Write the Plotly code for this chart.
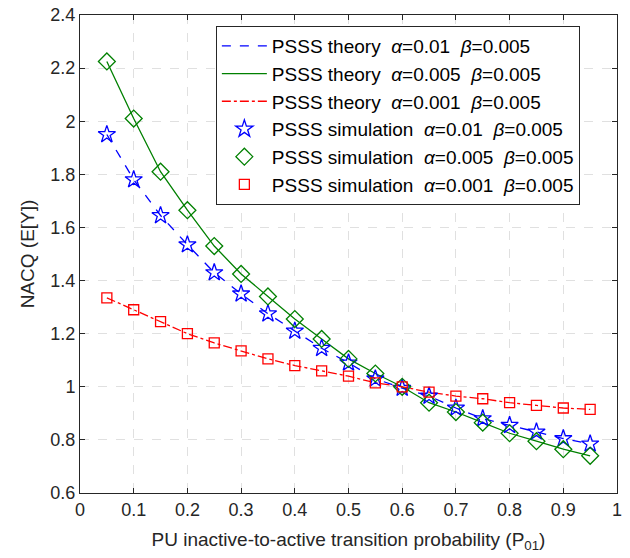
import plotly.graph_objects as go

# transition probability P01
p01 = [0.05, 0.10, 0.15, 0.20, 0.25, 0.30, 0.35, 0.40, 0.45, 0.50,
       0.55, 0.60, 0.65, 0.70, 0.75, 0.80, 0.85, 0.90, 0.95]

# alpha = 0.01
nacq_a01 = [1.95, 1.78, 1.645, 1.535, 1.43, 1.35, 1.275, 1.21, 1.145, 1.09,
            1.03, 0.995, 0.965, 0.92, 0.88, 0.855, 0.83, 0.805, 0.785]
# alpha = 0.005
nacq_a005 = [2.225, 2.01, 1.81, 1.665, 1.53, 1.425, 1.34, 1.255, 1.18, 1.105,
             1.05, 1.0, 0.94, 0.905, 0.865, 0.825, 0.795, 0.765, 0.74]
# alpha = 0.001
nacq_a001 = [1.335, 1.29, 1.245, 1.2, 1.165, 1.135, 1.105, 1.08, 1.06, 1.04,
             1.015, 1.0, 0.98, 0.965, 0.955, 0.94, 0.93, 0.92, 0.915]


def label(kind, a):
    return f"PSSS {kind}&nbsp; <i>α</i>={a}&nbsp; <i>β</i>=0.005"


fig = go.Figure()

fig.add_trace(go.Scatter(x=p01, y=nacq_a01, mode="lines",
                         line=dict(color="#0000FF", width=1.3, dash="dash"),
                         name=label("theory", "0.01")))
fig.add_trace(go.Scatter(x=p01, y=nacq_a005, mode="lines",
                         line=dict(color="#008000", width=1.3),
                         name=label("theory", "0.005")))
fig.add_trace(go.Scatter(x=p01, y=nacq_a001, mode="lines",
                         line=dict(color="#FF0000", width=1.3, dash="dashdot"),
                         name=label("theory", "0.001")))

fig.add_trace(go.Scatter(x=p01, y=nacq_a01, mode="markers",
                         marker=dict(symbol="star-open", size=13, color="#0000FF",
                                     line=dict(width=1.3, color="#0000FF")),
                         name=label("simulation", "0.01")))
fig.add_trace(go.Scatter(x=p01, y=nacq_a005, mode="markers",
                         marker=dict(symbol="diamond-open", size=13, color="#008000",
                                     line=dict(width=1.3, color="#008000")),
                         name=label("simulation", "0.005")))
fig.add_trace(go.Scatter(x=p01, y=nacq_a001, mode="markers",
                         marker=dict(symbol="square-open", size=10, color="#FF0000",
                                     line=dict(width=1.3, color="#FF0000")),
                         name=label("simulation", "0.001")))

axis_style = dict(
    showline=True, linecolor="#262626", linewidth=1, mirror="ticks",
    ticks="inside", ticklen=5, tickcolor="#262626",
    showgrid=True, gridcolor="#E0E0E0", griddash="dash", gridwidth=1,
    zeroline=False, automargin=False,
    tickfont=dict(size=18, color="#262626"),
)

fig.update_xaxes(range=[0, 1], dtick=0.1, tickformat="~g",
                 title=dict(text="PU inactive-to-active transition probability (P<sub>01</sub>)",
                            font=dict(size=19, color="#262626"), standoff=14),
                 **axis_style)
fig.update_yaxes(range=[0.6, 2.4], dtick=0.2, tickformat="~g",
                 title=dict(text="NACQ (E[Y])", font=dict(size=19, color="#262626"), standoff=10),
                 **axis_style)

fig.update_layout(
    width=630, height=558,
    margin=dict(l=80, r=13, t=15, b=65),
    paper_bgcolor="white", plot_bgcolor="white",
    font=dict(family="Liberation Sans, Arial, sans-serif", color="#262626"),
    legend=dict(x=0.253, y=0.977, xanchor="left", yanchor="top",
                bgcolor="white", bordercolor="#262626", borderwidth=1,
                font=dict(size=19, color="#000000"), tracegroupgap=0,
                itemwidth=45),
    showlegend=True,
)

# drop the default page margin so the figure sits at the window's corner
fig.write_html("out.html", config={"displayModeBar": False},
               post_script="document.body.style.margin='0';")
